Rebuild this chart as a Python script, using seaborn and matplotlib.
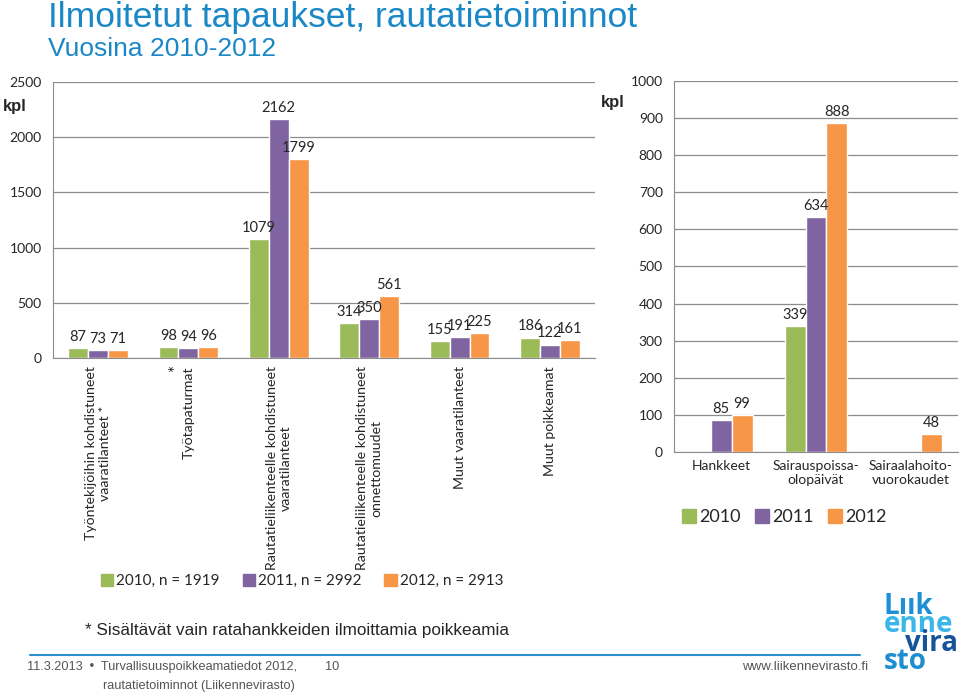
import numpy as np
import pandas as pd
import seaborn as sns
import matplotlib.pyplot as plt
from matplotlib.patches import Patch

# data
years = ["2010", "2011", "2012"]
colors = ["#9BBB59", "#8064A2", "#F79646"]

left_cats = ["Työntekijöihin kohdistuneet\nvaaratilanteet *",
             "Työtapaturmat",
             "Rautatieliikenteelle kohdistuneet\nvaaratilanteet",
             "Rautatieliikenteelle kohdistuneet\nonnettomuudet",
             "Muut vaaratilanteet",
             "Muut poikkeamat"]
left_2010 = [87, 98, 1079, 314, 155, 186]
left_2011 = [73, 94, 2162, 350, 191, 122]
left_2012 = [71, 96, 1799, 561, 225, 161]
left_n = [1919, 2992, 2913]

right_cats = ["Hankkeet", "Sairauspoissa-\nolopäivät", "Sairaalahoito-\nvuorokaudet"]
right_2010 = [np.nan, 339, np.nan]
right_2011 = [85, 634, np.nan]
right_2012 = [99, 888, 48]

sns.set_style("white")
plt.rcParams['font.family'] = ['Lato', 'DejaVu Sans']

fig = plt.figure(figsize=(9.6, 6.94), dpi=100)


def long_df(cats, vals):
    rows = []
    for y, v in zip(years, vals):
        for c, x in zip(cats, v):
            if not np.isnan(x):
                rows.append({"cat": c, "year": y, "kpl": x})
    return pd.DataFrame(rows)


def style_axis(ax, ymax, step, ncat):
    ax.set_ylim(0, ymax)
    ax.set_xlim(-0.5, ncat - 0.5)
    ax.set_yticks(np.arange(0, ymax + 1, step))
    ax.yaxis.grid(True, color="#8c8c8c", lw=0.9)
    ax.set_axisbelow(True)
    for s in ["top", "right"]:
        ax.spines[s].set_visible(False)
    for s in ["left", "bottom"]:
        ax.spines[s].set_color("#8c8c8c")
    ax.set_xlabel("")
    ax.set_ylabel("")
    ax.set_xticks(np.arange(-0.5, ncat, 1.0), minor=True)
    ax.tick_params(axis="x", which="minor", length=5, color="#8c8c8c", direction="out")
    ax.tick_params(axis="x", which="major", length=0, pad=6)
    ax.tick_params(axis="y", length=0, labelsize=10, pad=8)
    for c in ax.containers:
        ax.bar_label(c, fmt="%d", padding=3, fontsize=10.5)


# left chart
axl = fig.add_axes([0.055, 0.484, 0.565, 0.398])
dl = long_df(left_cats, [left_2010, left_2011, left_2012])
sns.barplot(data=dl, x="cat", y="kpl", hue="year", order=left_cats, hue_order=years,
            palette=colors, saturation=1, width=0.66, legend=False, ax=axl)
style_axis(axl, 2500, 500, len(left_cats))
axl.set_xticks(range(len(left_cats)))
axl.set_xticklabels(left_cats, rotation=90, va="top", ha="center",
                    multialignment="center", fontsize=10.2)
axl.text(1 - 0.14, -0.025, "*", transform=axl.get_xaxis_transform(),
         rotation=90, ha="center", va="top", fontsize=12)
fig.text(3 / 960, 1 - 107 / 694, "kpl", fontsize=12, fontweight="bold",
         family="Liberation Sans", va="center")

# right chart
axr = fig.add_axes([0.702, 0.349, 0.296, 0.534])
dr = long_df(right_cats, [right_2010, right_2011, right_2012])
sns.barplot(data=dr, x="cat", y="kpl", hue="year", order=right_cats, hue_order=years,
            palette=colors, saturation=1, width=0.66, legend=False, ax=axr)
style_axis(axr, 1000, 100, len(right_cats))
axr.set_xticks(range(len(right_cats)))
axr.set_xticklabels(right_cats, fontsize=10, multialignment="center")
fig.text(601 / 960, 1 - 103 / 694, "kpl", fontsize=12, fontweight="bold",
         family="Liberation Sans", va="center")

# legends
h = [Patch(color=c) for c in colors]
fig.legend(h, [f"{y}, n = {n}" for y, n in zip(years, left_n)], loc="center",
           bbox_to_anchor=(302 / 960, 1 - 581 / 694), ncol=3, frameon=False,
           fontsize=11, handlelength=0.8, handleheight=0.8, columnspacing=1.5,
           handletextpad=0.2)
fig.legend(h, years, loc="center", bbox_to_anchor=(784 / 960, 1 - 517 / 694),
           ncol=3, frameon=False, fontsize=13, handlelength=0.8, handleheight=0.8,
           columnspacing=0.8, handletextpad=0.15)

# titles
blue = "#1a87c6"
fig.text(48 / 960, 1 - 27 / 694, "Ilmoitetut tapaukset, rautatietoiminnot",
         fontsize=25.5, color=blue, family="Liberation Sans", va="baseline")
fig.text(48 / 960, 1 - 56 / 694, "Vuosina 2010-2012",
         fontsize=19, color=blue, family="Liberation Sans", va="baseline")

# footnote and footer
fig.text(85 / 960, 1 - 630 / 694, "* Sisältävät vain ratahankkeiden ilmoittamia poikkeamia",
         fontsize=12.3, family="Liberation Sans", va="center")
fig.add_artist(plt.Line2D([30 / 960, 860 / 960], [1 - 655 / 694] * 2,
                          color="#2a8fd0", lw=1.5))
grey = "#555555"
fig.text(27 / 960, 1 - 667 / 694, "11.3.2013  •  Turvallisuuspoikkeamatiedot 2012,",
         fontsize=9.2, color=grey, family="Liberation Sans", va="center")
fig.text(103 / 960, 1 - 686 / 694, "rautatietoiminnot (Liikennevirasto)",
         fontsize=9.2, color=grey, family="Liberation Sans", va="center")
fig.text(325 / 960, 1 - 667 / 694, "10", fontsize=9.2, color=grey,
         family="Liberation Sans", va="center")
fig.text(868 / 960, 1 - 667 / 694, "www.liikennevirasto.fi", fontsize=9.5, color=grey,
         family="Liberation Sans", va="center", ha="right")

# logo
logo = [("Lıık", 614, "#1c8fd6", "left"), ("enne", 632, "#3bb6e8", "left"),
        ("vira", 651, "#15549a", "right"), ("sto", 669, "#1d8fd0", "left")]
for t, y, c, ha in logo:
    x = 884 / 960 if ha == "left" else 958 / 960
    fig.text(x, 1 - y / 694, t, fontsize=20, fontweight="bold", color=c,
             family="Open Sans", va="baseline", ha=ha)

fig.savefig("out.png", dpi=100)
